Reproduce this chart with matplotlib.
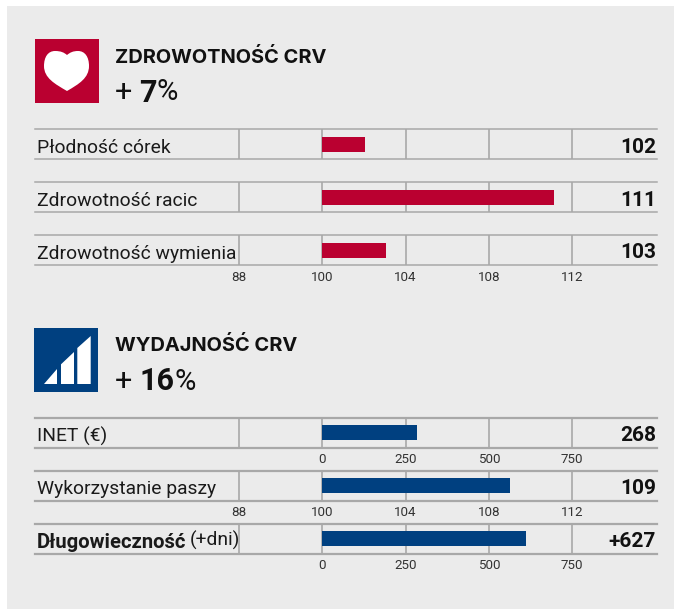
import matplotlib
matplotlib.use('Agg')
import matplotlib.pyplot as plt
from matplotlib.patches import PathPatch, Polygon, Rectangle
from matplotlib.path import Path

W, H = 674, 609
BG = '#ebebeb'
RED = '#ba0030'
BLUE = '#004080'
GRID = '#a8a8a8'
FONT = 'Roboto'
HEAD_FONT = 'Inter'

# health block
health_labels = ['Płodność córek', 'Zdrowotność racic', 'Zdrowotność wymienia']
health_values = [102.05, 111.15, 103.05]
health_text = ['102', '111', '103']

# production block
prod_labels = ['INET (€)', 'Wykorzystanie paszy', 'Długowieczność']
prod_values = [284, 109, 611]
prod_text = ['268', '109', '+627']

# the first gridline of the index scale is labelled 88 although it sits one step below 100
index_ticks = [96, 100, 104, 108, 112]
index_labels = ['88', '100', '104', '108', '112']
money_ticks = [-250, 0, 250, 500, 750]
money_labels = ['', '0', '250', '500', '750']

X0, X1 = 35, 656.7     # row rule extent in px
ZERO_PX = 322.3
UNIT_PX = 83.3         # one tick step in px


def row_axes(top, bottom):
    return fig.add_axes([X0 / W, 1 - bottom / H, (X1 - X0) / W, (bottom - top) / H])


def draw_row(top, label, value, text, color, kind, show_ticks, rule=1.1):
    ax = row_axes(top, top + 30)
    ax.patch.set_alpha(0)
    if kind == 'index':
        base, step = 100, 4
        ticks, ticklabels = index_ticks, index_labels
    else:
        base, step = 0, 250
        ticks, ticklabels = money_ticks, money_labels
    scale = step / UNIT_PX
    ax.set_xlim(base + (X0 - ZERO_PX) * scale, base + (X1 - ZERO_PX) * scale)
    ax.set_ylim(0, 30)
    ax.barh(15, value - base, left=base, height=15, color=color, zorder=3)
    ax.set_xticks(ticks)
    ax.set_xticklabels(ticklabels if show_ticks else [''] * len(ticks),
                       fontsize=9.6, color='#333333', family=FONT)
    ax.set_yticks([])
    ax.tick_params(axis='x', length=0, pad=4)
    ax.grid(axis='x', color=GRID, lw=1.2, zorder=1)
    for side in ['left', 'right']:
        ax.spines[side].set_visible(False)
    for side in ['top', 'bottom']:
        ax.spines[side].set_color(GRID)
        ax.spines[side].set_linewidth(rule)
    bold = label == 'Długowieczność'
    ax.text(2 / (X1 - X0), 0.38, label, transform=ax.transAxes,
            fontsize=14.6 if bold else 13.9,
            color='#1a1a1a', family=FONT, va='center', ha='left',
            fontweight='bold' if bold else 'normal')
    ax.text(0.9985, 0.40, text, transform=ax.transAxes, fontsize=15,
            color='#111111', family=FONT, fontweight='bold', va='center', ha='right')


fig = plt.figure(figsize=(W / 100, H / 100), dpi=100, facecolor='white')

# overlay in pixel coords for panel, icons and headings
bg = fig.add_axes([0, 0, 1, 1])
bg.set_xlim(0, W)
bg.set_ylim(H, 0)
bg.axis('off')
bg.add_patch(Rectangle((7, 6), W - 7, H - 6, color=BG, lw=0))

# heart icon
bg.add_patch(Rectangle((35, 39), 64, 64, color=RED, lw=0))
heart = Path(
    [(67, 91), (55, 84), (44, 78), (44, 66), (44, 57), (48, 51), (55, 51),
     (61, 51), (64, 52.5), (67, 55), (70, 52.5), (73, 51), (78, 51),
     (85, 51), (89, 57), (89, 66), (89, 78), (79, 84), (67, 91)],
    [Path.MOVETO] + [Path.CURVE4] * 18)
bg.add_patch(PathPatch(heart, fc='white', lw=0))

# signal icon
bg.add_patch(Rectangle((34, 328), 64, 64, color=BLUE, lw=0))
for pts in [[(44.3, 384), (57.3, 384), (57.3, 369)],
            [(61, 384), (74, 384), (74, 352), (61, 364.3)],
            [(77.3, 384), (90.7, 384), (90.7, 336), (77.3, 348)]]:
    bg.add_patch(Polygon(pts, fc='white', lw=0))

bg.text(115, 57.5, 'ZDROWOTNOŚĆ CRV', fontsize=14.4, fontweight='bold', family=HEAD_FONT,
        color='#111111', va='center', ha='left')
bg.text(115, 92.5, '+', fontsize=22, family=FONT, color='#111111', va='center', ha='left')
bg.text(139, 92.5, '7', fontsize=22, fontweight='bold', family=FONT, color='#111111', va='center', ha='left')
bg.text(157, 92.5, '%', fontsize=21, family=FONT, color='#111111', va='center', ha='left')

bg.text(115, 345.5, 'WYDAJNOŚĆ CRV', fontsize=14.4, fontweight='bold', family=HEAD_FONT,
        color='#111111', va='center', ha='left')
bg.text(115, 381.5, '+', fontsize=22, family=FONT, color='#111111', va='center', ha='left')
bg.text(139, 381.5, '16', fontsize=22, fontweight='bold', family=FONT, color='#111111', va='center', ha='left')
bg.text(174, 381.5, '%', fontsize=21, family=FONT, color='#111111', va='center', ha='left')

bg.text(189.5, 540.5, '(+dni)', fontsize=13.9, family=FONT, color='#1a1a1a', va='center', ha='left')

draw_row(129.3, health_labels[0], health_values[0], health_text[0], RED, 'index', False)
draw_row(182.3, health_labels[1], health_values[1], health_text[1], RED, 'index', False)
draw_row(235, health_labels[2], health_values[2], health_text[2], RED, 'index', True)

draw_row(417.7, prod_labels[0], prod_values[0], prod_text[0], BLUE, 'money', True, rule=1.6)
draw_row(470.7, prod_labels[1], prod_values[1], prod_text[1], BLUE, 'index', True, rule=1.6)
draw_row(523.5, prod_labels[2], prod_values[2], prod_text[2], BLUE, 'money', True, rule=1.6)

fig.savefig('out.png', dpi=100, facecolor='white')
